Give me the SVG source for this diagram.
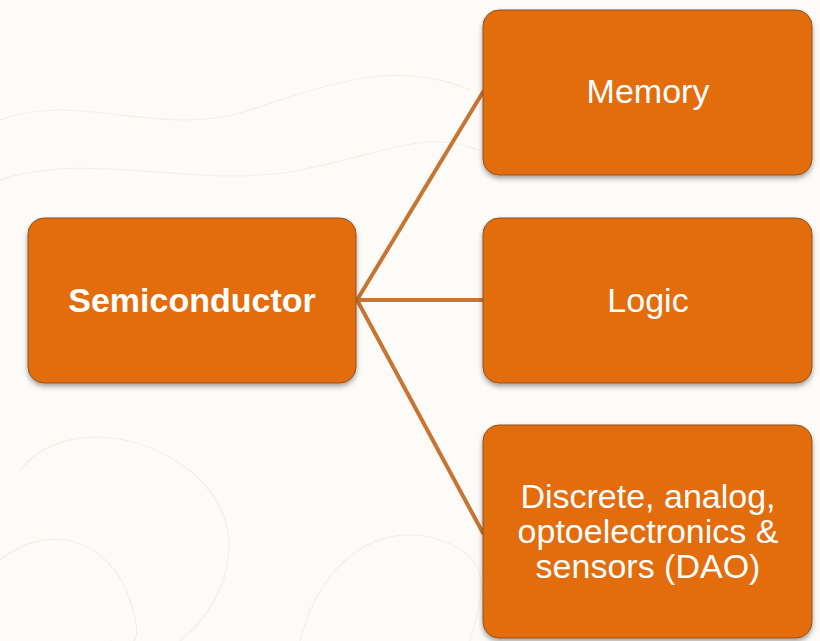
<svg xmlns="http://www.w3.org/2000/svg" width="820" height="641" viewBox="0 0 820 641">
  <style>
    .box { fill: #E36C0A; stroke: #8E5220; stroke-width: 1; filter: url(#sh); }
    .conn { stroke: #C87533; stroke-width: 4; fill: none; stroke-linecap: round; }
    .lbl { font-family: "Liberation Sans", Arial, sans-serif; font-size: 34px; fill: #FFFFFF; text-anchor: middle; }
    .bold { font-weight: bold; }
    .topo { fill: none; stroke: #F5EEE5; stroke-width: 1.2; }
  </style>
  <defs>
    <filter id="sh" x="-10%" y="-10%" width="120%" height="130%">
      <feDropShadow dx="0" dy="3" stdDeviation="2.5" flood-color="#000000" flood-opacity="0.35"/>
    </filter>
  </defs>
  <rect width="820" height="641" fill="#FDFBF8"/>
  <g id="background">
    <path class="topo" d="M0,120 C80,90 160,140 250,110 S400,60 470,90"/>
    <path class="topo" d="M0,180 C90,150 200,190 300,170 S420,130 480,150"/>
    <path class="topo" d="M20,470 C60,420 150,430 200,480 S230,600 180,641"/>
    <path class="topo" d="M300,641 C320,560 380,520 440,540 S480,600 470,641"/>
    <path class="topo" d="M0,560 C50,520 110,540 130,600 S120,641 110,641"/>
  </g>
  <g id="connectors">
    <line class="conn" x1="357" y1="300" x2="483" y2="92"/>
    <line class="conn" x1="357" y1="300" x2="483" y2="300"/>
    <line class="conn" x1="357" y1="300" x2="483" y2="533"/>
  </g>
  <g id="semiconductor">
    <rect class="box" x="28" y="218" width="328" height="165" rx="16"/>
    <text class="lbl bold" x="192" y="312">Semiconductor</text>
  </g>
  <g id="memory">
    <rect class="box" x="483" y="10" width="329" height="165" rx="16"/>
    <text class="lbl" x="648" y="103">Memory</text>
  </g>
  <g id="logic">
    <rect class="box" x="483" y="218" width="329" height="165" rx="16"/>
    <text class="lbl" x="648" y="312">Logic</text>
  </g>
  <g id="dao">
    <rect class="box" x="483" y="425" width="329" height="213" rx="16"/>
    <text class="lbl" x="648" y="508">Discrete, analog,</text>
    <text class="lbl" x="648" y="543">optoelectronics &amp;</text>
    <text class="lbl" x="648" y="578">sensors (DAO)</text>
  </g>
</svg>
